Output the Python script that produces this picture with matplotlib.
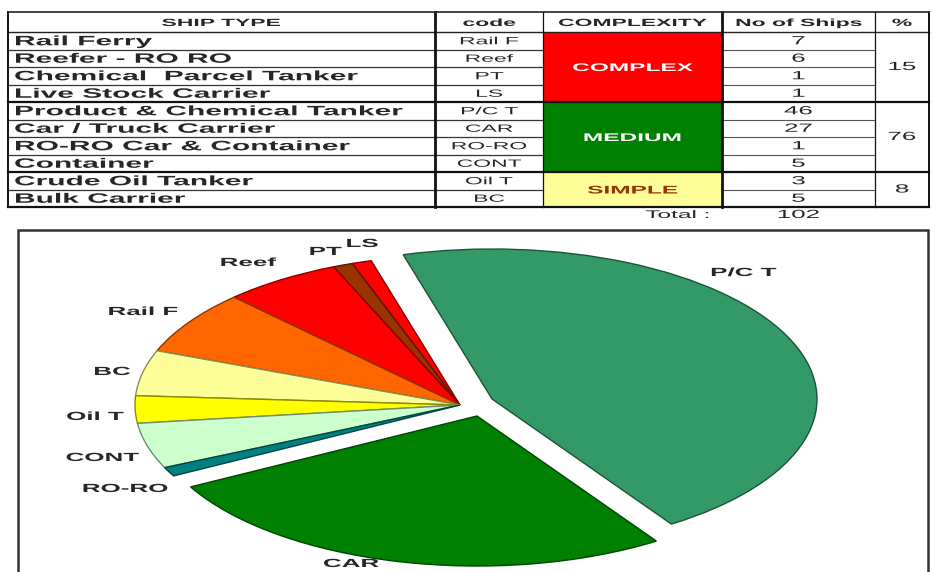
import matplotlib
matplotlib.use("Agg")
import matplotlib.pyplot as plt
import matplotlib.patheffects as pe
import matplotlib.colors as mcolors
from matplotlib.patches import Rectangle
from matplotlib.transforms import Affine2D

# ---------------- data ----------------
ship_types = ["Rail Ferry", "Reefer - RO RO", "Chemical  Parcel Tanker", "Live Stock Carrier",
              "Product & Chemical Tanker", "Car / Truck Carrier", "RO-RO Car & Container",
              "Container", "Crude Oil Tanker", "Bulk Carrier"]
codes = ["Rail F", "Reef", "PT", "LS", "P/C T", "CAR", "RO-RO", "CONT", "Oil T", "BC"]
ships = [7, 6, 1, 1, 46, 27, 1, 5, 3, 5]
complexity = ["COMPLEX", "MEDIUM", "SIMPLE"]
complexity_rows = [4, 4, 2]
percent = [15, 76, 8]
total_ships = 102
headers = ["SHIP TYPE", "code", "COMPLEXITY", "No of Ships", "%"]

pie_codes = ["P/C T", "LS", "PT", "Reef", "Rail F", "BC", "Oil T", "CONT", "RO-RO", "CAR"]
pie_colors = ["#339966", "#FF0000", "#993300", "#FF0000", "#FF6600",
              "#FFFF99", "#FFFF00", "#CCFFCC", "#008080", "#008000"]
complexity_colors = ["#FF0000", "#008000", "#FFFF99"]
complexity_text_colors = ["white", "white", "#993300"]

# ---------------- layout / style ----------------
W, H = 933, 572
SX = 2.2                      # horizontal stretch of the lettering
FONT = "Liberation Sans"
TXT = "#262626"


class Stretch(pe.AbstractPathEffect):
    """Draw the text widened horizontally around its anchor."""

    def __init__(self, text, sx):
        super().__init__()
        self.text = text
        self.sx = sx

    def draw_path(self, renderer, gc, tpath, affine, rgbFace=None):
        x0 = self.text.get_transform().transform(self.text.get_position())[0]
        aff = affine + Affine2D().translate(-x0, 0).scale(self.sx, 1).translate(x0, 0)
        renderer.draw_path(gc, tpath, aff, rgbFace)


def stext(ax, x, y, s, sx=SX, **kw):
    kw.setdefault("family", FONT)
    kw.setdefault("color", TXT)
    kw.setdefault("va", "center")
    t = ax.text(x, y, s, **kw)
    t.set_path_effects([Stretch(t, sx)])
    return t


fig = plt.figure(figsize=(W / 100, H / 100), dpi=100)
fig.patch.set_facecolor("white")

# ---------------- pie ----------------
CX, CY, RX, RY = 460, 405, 325, 150
axp = fig.add_axes([0, 0, 1, 1])
pie_vals = [ships[codes.index(c)] for c in pie_codes]
wedges, _ = axp.pie(pie_vals, colors=pie_colors, startangle=-56.5, counterclock=True)
axp.set_aspect("auto")
axp.set_xlim(-CX / RX, (W - CX) / RX)
axp.set_ylim((CY - H) / RY, CY / RY)
axp.axis("off")


def darker(c, f=0.55):
    r, g, b = mcolors.to_rgb(c)
    return (r * f, g * f, b * f)


for w, c in zip(wedges, pie_colors):
    w.set_edgecolor(darker(c))
    w.set_linewidth(1.0)

shift_px = {"P/C T": (32, -6), "CAR": (17, 11)}
for w, c in zip(wedges, pie_codes):
    if c in shift_px:
        dx, dy = shift_px[c]
        w.set_center((dx / RX, -dy / RY))

# ---------------- overlay (table, frame, labels) ----------------
ax = fig.add_axes([0, 0, 1, 1], zorder=3)
ax.set_xlim(0, W)
ax.set_ylim(H, 0)
ax.axis("off")

# chart frame
ax.plot([18, 18, 928, 928], [600, 230, 230, 600], color="#333333", lw=1.8,
        solid_joinstyle="miter", clip_on=False)

# pie labels
label_pos = {"P/C T": (743, 273), "LS": (362, 244), "PT": (325, 252), "Reef": (248, 263),
             "Rail F": (143, 312), "BC": (112, 372), "Oil T": (95, 417), "CONT": (102, 458),
             "RO-RO": (125, 489), "CAR": (351, 564)}
for c in pie_codes:
    x, y = label_pos[c]
    stext(ax, x, y, c, ha="center", fontsize=8.5, fontweight="bold")

# table geometry
col_x = [8, 435, 543, 722, 875, 929]
top, head_b, row_h = 12, 32, 17.5
n = len(ship_types)
row_y = [head_b + i * row_h for i in range(n + 1)]
bottom = row_y[-1]

# complexity fills
start = 0
group_bounds = []
for g, nr in enumerate(complexity_rows):
    y0, y1 = row_y[start], row_y[start + nr]
    ax.add_patch(Rectangle((col_x[2], y0), col_x[3] - col_x[2], y1 - y0,
                           facecolor=complexity_colors[g], edgecolor="none", zorder=1))
    stext(ax, (col_x[2] + col_x[3]) / 2, (y0 + y1) / 2 + 1, complexity[g], ha="center",
          fontsize=8, fontweight="bold", color=complexity_text_colors[g], zorder=3)
    stext(ax, (col_x[4] + col_x[5]) / 2, (y0 + y1) / 2, str(percent[g]), ha="center",
          fontsize=8.5, zorder=3)
    group_bounds.append((start, start + nr))
    start += nr

# thin row lines
bound_rows = {b for _, b in group_bounds}
for i in range(1, n):
    if i in bound_rows:
        continue
    y = row_y[i]
    ax.plot([col_x[0], col_x[2]], [y, y], color="#333333", lw=0.9, zorder=2)
    ax.plot([col_x[3], col_x[4]], [y, y], color="#555555", lw=0.8, zorder=2)
# group lines
for i in sorted(bound_rows):
    y = row_y[i]
    ax.plot([col_x[0], col_x[5]], [y, y], color="#111111", lw=1.6, zorder=2)
# header line
ax.plot([col_x[0], col_x[5]], [head_b, head_b], color="#222222", lw=1.0, zorder=2)
# vertical lines
for j, x in enumerate(col_x):
    lw = 2.0 if j in (1, 3) else (1.4 if j in (0, 5) else 0.9)
    ax.plot([x, x], [top, bottom], color="#111111", lw=lw, zorder=2)
ax.plot([col_x[0], col_x[5]], [top, top], color="#222222", lw=1.2, zorder=2)

# header text
for j, h in enumerate(headers):
    stext(ax, (col_x[j] + col_x[j + 1]) / 2, (top + head_b) / 2 + 1, h, ha="center",
          fontsize=7.5, fontweight="bold")

# rows
for i in range(n):
    yc = (row_y[i] + row_y[i + 1]) / 2 + 0.5
    stext(ax, 14, yc, ship_types[i], ha="left", fontsize=9.8, fontweight="bold")
    stext(ax, (col_x[1] + col_x[2]) / 2, yc, codes[i], ha="center", fontsize=7.5)
    stext(ax, (col_x[3] + col_x[4]) / 2, yc, str(ships[i]), ha="center", fontsize=8.5)

# total
stext(ax, 678, bottom + 8, "Total :", ha="center", fontsize=8)
stext(ax, (col_x[3] + col_x[4]) / 2, bottom + 8, str(total_ships), ha="center", fontsize=8.5)

fig.savefig("out.png", dpi=100, facecolor="white")
